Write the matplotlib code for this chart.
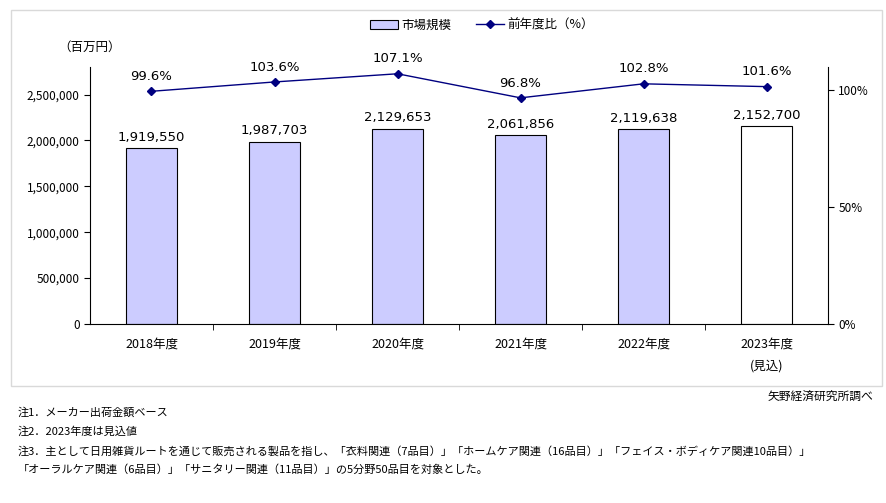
import matplotlib.pyplot as plt
import matplotlib.patches as patches
from matplotlib.ticker import FuncFormatter

plt.rcParams['font.family'] = ['Noto Sans CJK JP', 'DejaVu Sans']

years = ['2018年度', '2019年度', '2020年度', '2021年度', '2022年度', '2023年度\n(見込)']
market = [1919550, 1987703, 2129653, 2061856, 2119638, 2152700]
yoy = [99.6, 103.6, 107.1, 96.8, 102.8, 101.6]
bar_colors = ['#ccccff'] * 5 + ['#ffffff']

notes = [
    '注1．メーカー出荷金額ベース',
    '注2．2023年度は見込値',
    '注3．主として日用雑貨ルートを通じて販売される製品を指し、「衣料関連（7品目）」「ホームケア関連（16品目）」「フェイス・ボディケア関連10品目）」',
    '「オーラルケア関連（6品目）」「サニタリー関連（11品目）」の5分野50品目を対象とした。',
]

W, H = 886, 503
fig = plt.figure(figsize=(W / 100, H / 100), dpi=100)

# outer frame
fig.patches.append(patches.Rectangle((11 / W, 1 - 386 / H), 871 / W, 376 / H,
                                     transform=fig.transFigure, fill=False,
                                     edgecolor='#d9d9d9', linewidth=1))

ax = fig.add_axes([90 / W, 1 - 324 / H, 738 / W, 257 / H])
x = list(range(len(years)))
bars = ax.bar(x, market, width=0.41, color=bar_colors, edgecolor='black',
              linewidth=0.8, label='市場規模', zorder=2)
ax.set_xlim(-0.5, len(years) - 0.5)
ax.set_ylim(0, 2800000)
ax.set_yticks(range(0, 2500001, 500000))
ax.yaxis.set_major_formatter(FuncFormatter(lambda v, p: f'{int(v):,}'))
ax.set_xticks(x)
ax.set_xticklabels(years, fontsize=9, linespacing=1.9)
ax.set_xticks([i + 0.5 for i in x[:-1]], minor=True)
ax.tick_params(axis='x', which='major', length=0, pad=10)
ax.tick_params(axis='x', which='minor', length=4, direction='out')
ax.tick_params(axis='y', labelsize=8.5, length=4)
for s in ['top', 'right']:
    ax.spines[s].set_visible(False)
ax.spines['left'].set_linewidth(0.8)
ax.spines['bottom'].set_linewidth(0.8)
ax.patch.set_visible(False)

for xi, v in zip(x, market):
    ax.annotate(f'{v:,}', (xi, v), xytext=(0, 3), textcoords='offset points',
                ha='center', va='bottom', fontsize=9.5, family='DejaVu Sans')

ax2 = ax.twinx()
ax2.plot(x, yoy, color='#000080', linewidth=1, marker='D', markersize=4,
         label='前年度比（%）', zorder=3)
ax2.set_ylim(0, 110)
ax2.set_yticks([0, 50, 100])
ax2.yaxis.set_major_formatter(FuncFormatter(lambda v, p: f'{int(v)}%'))
ax2.tick_params(axis='y', labelsize=8.5, length=4)
for s in ['top', 'left', 'bottom']:
    ax2.spines[s].set_visible(False)
ax2.spines['right'].set_linewidth(0.8)

for xi, v in zip(x, yoy):
    ax2.annotate(f'{v}%', (xi, v), xytext=(0, 6), textcoords='offset points',
                 ha='center', va='bottom', fontsize=9.5, family='DejaVu Sans')

ax.text(0.0, 1.078, '（百万円）', transform=ax.transAxes, ha='center',
        va='center', fontsize=9)

h1, l1 = ax.get_legend_handles_labels()
h2, l2 = ax2.get_legend_handles_labels()
fig.legend(h1 + h2, l1 + l2, loc='center', bbox_to_anchor=(482 / W, 1 - 25 / H),
           ncol=2, frameon=False, fontsize=9, handlelength=2.2,
           columnspacing=2.0, handletextpad=0.3)

fig.text(873 / W, 1 - 396 / H, '矢野経済研究所調べ', ha='right', va='center', fontsize=8.5)
for i, n in enumerate(notes):
    fig.text(18 / W, 1 - (413 + i * 19) / H, n, ha='left', va='center', fontsize=8)

fig.savefig('out.png', dpi=100)
